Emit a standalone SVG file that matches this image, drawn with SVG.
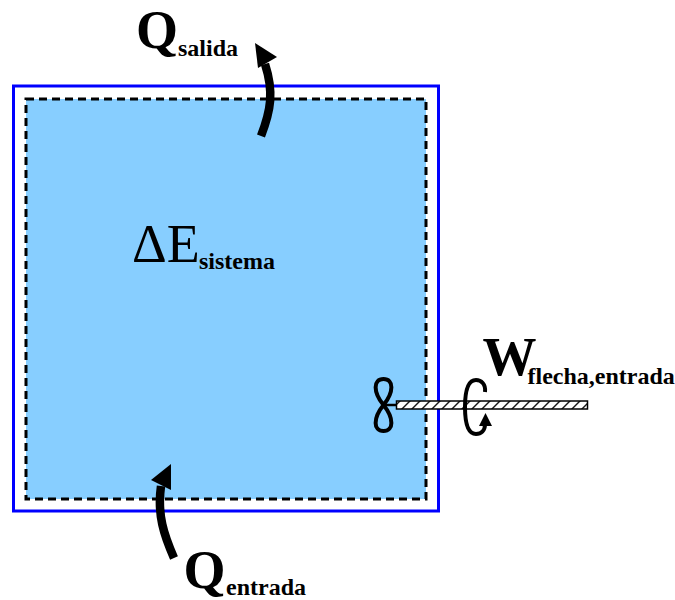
<svg xmlns="http://www.w3.org/2000/svg" width="675" height="600" viewBox="0 0 675 600">
<style>
text{font-family:"Liberation Serif","Times New Roman",serif;fill:#000}
.b{font-weight:bold}
.big{font-size:54px}
.sub{font-size:24px}
.thick{fill:none;stroke:#000;stroke-width:8.500}
.thin{fill:none;stroke:#000;stroke-width:4}
</style>
<defs>
<pattern id="hatch" width="10" height="9" patternUnits="userSpaceOnUse" patternTransform="skewX(-45)">
<rect width="10" height="9" fill="#fff"/><rect x="0" width="1.800" height="9" fill="#000"/>
</pattern>
</defs>
<g id="system">
<rect x="13.500" y="86" width="425" height="425" fill="#fff" stroke="#0000ff" stroke-width="3"/>
<rect x="26" y="99" width="400" height="400" fill="#87ceff" stroke="#000" stroke-width="3" stroke-dasharray="8 5"/>
</g>
<g id="labels">
<text class="b big" x="136" y="47.500">Q</text>
<text class="b sub" x="178" y="56">salida</text>
<text x="132" y="262" font-size="54">ΔE</text>
<text class="b sub" x="199" y="269">sistema</text>
<text class="b big" x="183.500" y="587.500">Q</text>
<text class="b sub" x="226" y="594.500">entrada</text>
<text class="b big" x="482.500" y="375">W</text>
<text class="b sub" x="527.500" y="384">flecha,entrada</text>
</g>
<g id="connectors">
<path class="thick" d="M261 136C271 110 274 92 265 64"/>
<path d="M255 43L277 57L258 68Z" fill="#000"/>
<path class="thick" d="M174 558C164 535 157 515 161 486"/>
<path d="M171 464L171 490L151 480Z" fill="#000"/>
</g>
<g id="shaft">
<path d="M383 405H397" stroke="#000" stroke-width="2.500" fill="none"/>
<path class="thin" stroke-width="4.500" d="M383.500 405C373 392 373 379 383.500 379C394 379 394 392 383.500 405C373 418 373 431 383.500 431C394 431 394 418 383.500 405Z"/>
<rect x="396.500" y="401" width="191" height="8" fill="url(#hatch)" stroke="#000" stroke-width="1.500"/>
<path class="thin" d="M485 392C486 384 481 380 476 380C468 380 465 392 465 407C465 422 468 434 476 434C481 434 485 431 485 424"/>
<path d="M485.500 413L492 426L479 426Z" fill="#000"/>
</g>
</svg>
